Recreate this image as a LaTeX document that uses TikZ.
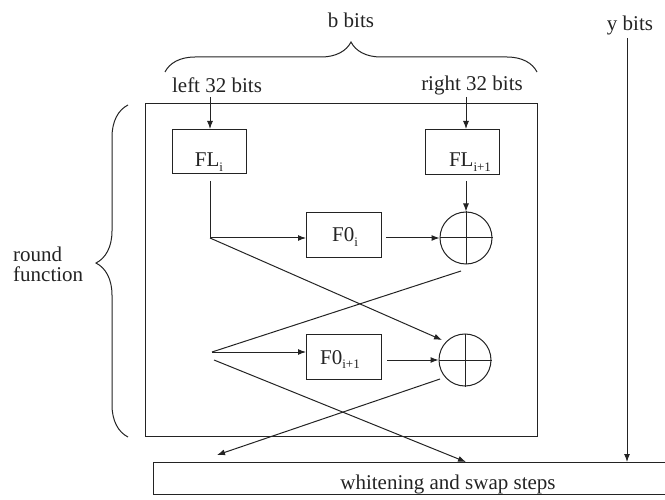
\documentclass[tikz,border=0pt]{standalone}
\usepackage{fontspec}
\setmainfont{Liberation Serif}
\usetikzlibrary{arrows.meta,decorations.pathreplacing}
\definecolor{ink}{RGB}{35,35,35}
\newcommand\subidx[1]{\raisebox{-0.45ex}{\fontsize{13}{13}\selectfont #1}}
\tikzset{
  every node/.style={font=\fontsize{21}{22}\selectfont, text=ink, inner sep=0pt},
  line/.style={draw=ink, line width=1pt},
  arr/.style={line, -{Latex[length=8pt,width=6pt]}},
  blk/.style={draw=ink, line width=1pt, rectangle, anchor=north west},
  xorc/.style={draw=ink, line width=1pt, circle, minimum size=52pt},
  bracepath/.style={draw=ink, line width=1pt, decorate}
}
\begin{document}
\begin{tikzpicture}[x=1pt, y=-1pt]
\useasboundingbox (0,0) rectangle (665,500);

% round-function frame and the whitening stage
\node[blk, minimum width=392pt, minimum height=333pt] (frame) at (145,103) {};
\node[blk, minimum width=520pt, minimum height=32pt] (white) at (153,462) {};
\node[anchor=base] (whitetxt) at (448,489) {whitening and swap steps};

% braces and their labels
\coordinate (bl) at (165,72);
\coordinate (br) at (537,72);
\draw[bracepath, decoration={brace, amplitude=30pt}] (bl) -- (br);
\node (bbits) at (351,20) {b bits};
\coordinate (rb) at (128,437);
\coordinate (rt) at (128,105);
\draw[bracepath, decoration={brace, amplitude=32pt, aspect=0.524}] (rb) -- (rt);
\node[anchor=west, align=left] (roundtxt) at (13,264) {round\\[-2pt]function};

% half-block inputs
\node (lefttxt) at (217,85) {left 32 bits};
\node (righttxt) at (472,85) {right 32 bits};
\coordinate (lin) at (210,97);
\coordinate (rin) at (466,97);

% FL blocks
\node[blk, minimum width=74pt, minimum height=44pt] (fl1) at (172,129) {};
\node[anchor=base] (fl1t) at (209,167) {FL\subidx{i}};
\node[blk, minimum width=74pt, minimum height=45pt] (fl2) at (425,129) {};
\node[anchor=base] (fl2t) at (470,167) {FL\subidx{i+1}};

% F0 blocks
\node[blk, minimum width=75pt, minimum height=45pt] (fo1) at (306,212) {};
\node[anchor=base] (fo1t) at (345,242) {F0\subidx{i}};
\node[blk, minimum width=75pt, minimum height=45pt] (fo2) at (306,334) {};
\node[anchor=base] (fo2t) at (340,364) {F0\subidx{i+1}};

% xor gates
\node[xorc] (x1) at (466,238) {};
\draw[line] (x1.north) -- (x1.south) (x1.west) -- (x1.east);
\node[xorc] (x2) at (465,360) {};
\draw[line] (x2.north) -- (x2.south) (x2.west) -- (x2.east);

% connection points
\coordinate (fl1out) at (210,181);
\coordinate (s1) at (210,238);
\coordinate (fo1out) at (386,238);
\coordinate (fl2out) at (466,181);
\coordinate (x1out) at (461,271);
\coordinate (x1to2) at (442,340);
\coordinate (s2) at (212,352);
\coordinate (s2b) at (214,360);
\coordinate (fo2in) at (306,352);
\coordinate (fo2out) at (387,360);
\coordinate (x2out) at (440,379);
\coordinate (outl) at (217,455);
\coordinate (outr) at (466,462);
\coordinate (yin) at (627,38);
\coordinate (yout) at (627,462);

% data flow
\draw[arr] (lin) -- (fl1.north -| lin);
\draw[arr] (rin) -- (fl2.north -| rin);
\draw[arr] (fl1out) -- (s1) -- (s1 -| fo1.west);
\draw[arr] (fo1out) -- (x1.west);
\draw[arr] (fl2out) -- (x1.north);
\draw[arr] (s1) -- (x1to2);
\draw[line] (x1out) -- (s2);
\draw[arr] (s2) -- (fo2in);
\draw[arr] (fo2out) -- (x2.west);
\draw[arr] (s2b) -- (outr);
\draw[arr] (x2out) -- (outl);
\draw[arr] (yin) -- (yout);
\node (ybits) at (630,25) {y bits};
\end{tikzpicture}
\end{document}
